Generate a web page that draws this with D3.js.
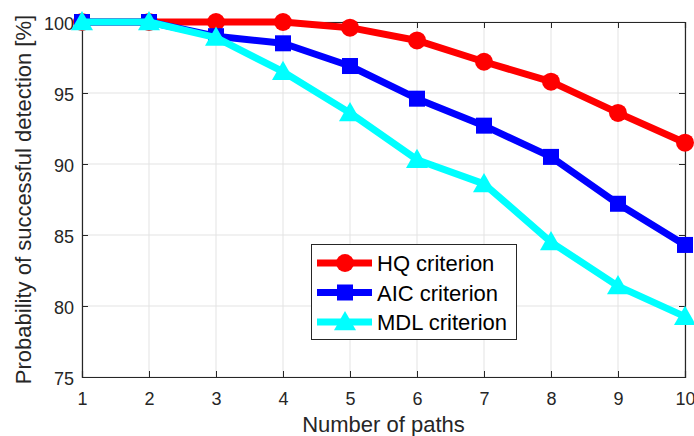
<!DOCTYPE html>
<html>
<head>
<meta charset="utf-8">
<script src="https://cdn.jsdelivr.net/npm/d3@7.9.0/dist/d3.min.js"></script>
<style>
  html, body { margin: 0; padding: 0; background: #fff; }
  svg { display: block; font-family: "Liberation Sans", Arial, sans-serif; }
</style>
</head>
<body>
<svg id="chart" width="694" height="436"></svg>
<script>
// data
const paths = [1, 2, 3, 4, 5, 6, 7, 8, 9, 10];
const hqValues  = [100, 100, 100, 100, 99.6, 98.7, 97.2, 95.8, 93.6, 91.5];
const aicValues = [100, 100, 99.0, 98.5, 96.9, 94.6, 92.7, 90.5, 87.2, 84.3];
const mdlValues = [100, 100, 98.9, 96.5, 93.6, 90.3, 88.6, 84.5, 81.4, 79.25];
const yTicks = [75, 80, 85, 90, 95, 100];
const seriesNames = ['HQ criterion', 'AIC criterion', 'MDL criterion'];

const series = [
  { name: seriesNames[0], values: hqValues,  color: '#ff0000', marker: 'circle' },
  { name: seriesNames[1], values: aicValues, color: '#0000ff', marker: 'square' },
  { name: seriesNames[2], values: mdlValues, color: '#00ffff', marker: 'triangle' }
];

const svg = d3.select('#chart');
const margin = { left: 82, right: 9, top: 22, bottom: 59 };
const W = 694, H = 436;

const x = d3.scaleLinear().domain([1, 10]).range([margin.left, W - margin.right]);
const y = d3.scaleLinear().domain([75, 100]).range([H - margin.bottom, margin.top]);

const axisColor = '#262626';

// grid
const grid = svg.append('g');
paths.forEach(p => {
  grid.append('line')
    .attr('x1', x(p)).attr('x2', x(p))
    .attr('y1', y(75)).attr('y2', y(100))
    .attr('stroke', '#e3e3e3').attr('stroke-width', 1);
});
yTicks.forEach(t => {
  grid.append('line')
    .attr('x1', x(1)).attr('x2', x(10))
    .attr('y1', y(t)).attr('y2', y(t))
    .attr('stroke', '#e3e3e3').attr('stroke-width', 1);
});

// axes (ticks point inward, box on)
const xAxis = svg.append('g')
  .attr('transform', `translate(0,${y(75)})`)
  .call(d3.axisBottom(x).tickValues(paths).tickSize(-6).tickPadding(12).tickFormat(d3.format('d')));
const xAxisTop = svg.append('g')
  .attr('transform', `translate(0,${y(100)})`)
  .call(d3.axisTop(x).tickValues(paths).tickSize(-6).tickFormat(''));
const yAxis = svg.append('g')
  .attr('transform', `translate(${x(1)},0)`)
  .call(d3.axisLeft(y).tickValues(yTicks).tickSize(-6).tickPadding(8));
const yAxisRight = svg.append('g')
  .attr('transform', `translate(${x(10)},0)`)
  .call(d3.axisRight(y).tickValues(yTicks).tickSize(-6).tickFormat(''));

[xAxis, xAxisTop, yAxis, yAxisRight].forEach(g => {
  g.select('.domain').attr('stroke', axisColor).attr('stroke-width', 1.2);
  g.selectAll('.tick line').attr('stroke', axisColor).attr('stroke-width', 1);
  g.selectAll('.tick text').attr('fill', axisColor).style('font-size', '18px');
});
xAxis.selectAll('.tick text').attr('y', 15);
yAxis.selectAll('.tick text').attr('dy', '0.4em');

// axis labels
svg.append('text')
  .attr('x', (x(1) + x(10)) / 2).attr('y', 432)
  .attr('text-anchor', 'middle')
  .attr('fill', axisColor).style('font-size', '22px')
  .text('Number of paths');
svg.append('text')
  .attr('transform', `translate(31,${(y(75) + y(100)) / 2}) rotate(-90)`)
  .attr('text-anchor', 'middle')
  .attr('fill', axisColor).style('font-size', '22px')
  .text('Probability of successful detection [%]');

// markers
function drawMarker(g, type, cx, cy, color) {
  if (type === 'circle') {
    g.append('circle').attr('cx', cx).attr('cy', cy).attr('r', 9).attr('fill', color);
  } else if (type === 'square') {
    g.append('rect').attr('x', cx - 8).attr('y', cy - 8).attr('width', 16).attr('height', 16).attr('fill', color);
  } else {
    const s = 11;
    g.append('path')
      .attr('d', `M${cx},${cy - s} L${cx + s},${cy + s * 0.75} L${cx - s},${cy + s * 0.75} Z`)
      .attr('fill', color);
  }
}

const line = d3.line().x((d, i) => x(paths[i])).y(d => y(d));

series.forEach(s => {
  const g = svg.append('g');
  g.append('path')
    .attr('d', line(s.values))
    .attr('fill', 'none')
    .attr('stroke', s.color)
    .attr('stroke-width', 7)
    .attr('stroke-linejoin', 'round');
  s.values.forEach((v, i) => drawMarker(g, s.marker, x(paths[i]), y(v), s.color));
});

// legend
const legend = svg.append('g');
legend.append('rect')
  .attr('x', 311.5).attr('y', 244.5).attr('width', 205).attr('height', 95)
  .attr('fill', '#fff').attr('stroke', axisColor).attr('stroke-width', 1);
series.forEach((s, i) => {
  const ly = 263 + i * 29.5;
  legend.append('line')
    .attr('x1', 317).attr('x2', 372).attr('y1', ly).attr('y2', ly)
    .attr('stroke', s.color).attr('stroke-width', 7);
  drawMarker(legend, s.marker, 345, ly, s.color);
  legend.append('text')
    .attr('x', 377).attr('y', ly + 8)
    .attr('fill', '#000').style('font-size', '22px')
    .text(s.name);
});
</script>
</body>
</html>
